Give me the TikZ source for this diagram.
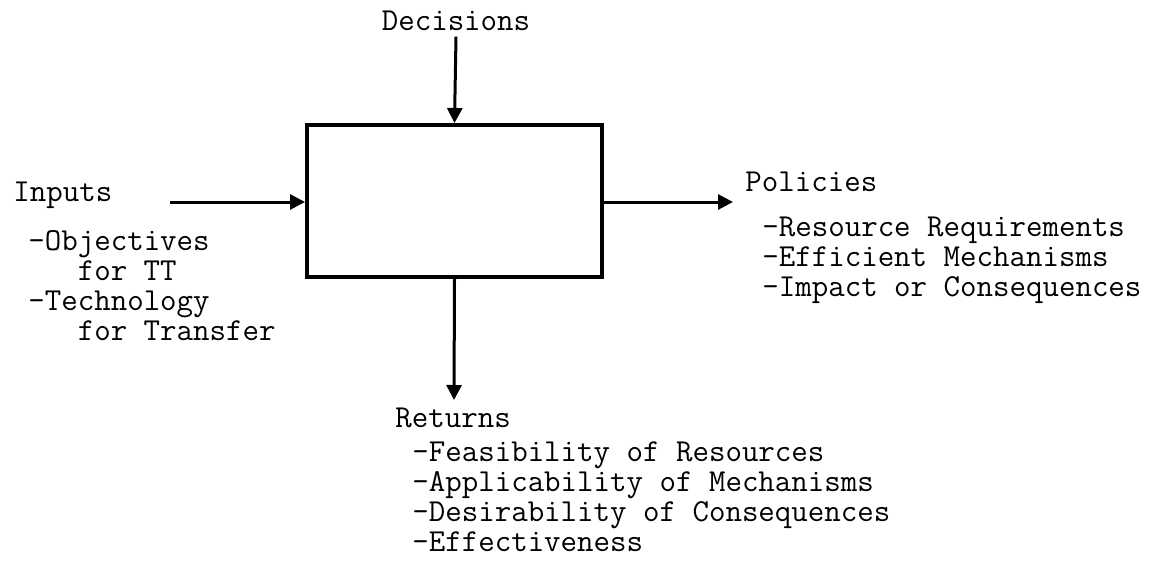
\documentclass[tikz,border=0pt]{standalone}
\usepackage{fontspec}
\usetikzlibrary{arrows.meta,positioning}

\begin{document}
\begin{tikzpicture}[x=0.5pt,y=-0.5pt]
\tikzstyle{lbl}=[inner sep=0pt, font=\ttfamily\fontsize{16}{15}\selectfont, align=left]
\tikzstyle{arr}=[line width=1.5pt, -{Triangle[length=7.5pt,width=7.5pt]}]
\useasboundingbox (0,0) rectangle (1152,563);

    \node[draw, line width=2pt, minimum width=147.5pt,
    minimum height=76pt] (sys) at (454.5,201) {};

% labels
\node[lbl, anchor=base] (dec) at (456,30) {Decisions};
\node[lbl, anchor=base west] (inp) at (13,201) {Inputs};
\node[lbl, anchor=north west] (inplist) at (28,230)
    {-Objectives\\\ \ \ for TT\\-Technology\\\ \ \ for Transfer};
\node[lbl, anchor=base west] (pol) at (745,191) {Policies};
\node[lbl, anchor=north west] (pollist) at (762,217)
    {-Resource Requirements\\-Efficient Mechanisms\\-Impact or Consequences};
\node[lbl, anchor=base west] (ret) at (395,427) {Returns};
\node[lbl, anchor=north west] (retlist) at (412,441)
    {-Feasibility of Resources\\-Applicability of Mechanisms\\-Desirability of Consequences\\-Effectiveness};

\coordinate (inpstart) at (170,202);
\coordinate (poltip) at (733,202);
\coordinate (rettip) at (454,400);

\draw[arr] ([yshift=-3pt]dec.south) -- (sys.north);
\draw[arr] (inpstart) -- (sys.west |- inpstart);
\draw[arr] (sys.east |- poltip) -- (poltip);
\draw[arr] (sys.south) -- (rettip);
\end{tikzpicture}
\end{document}
